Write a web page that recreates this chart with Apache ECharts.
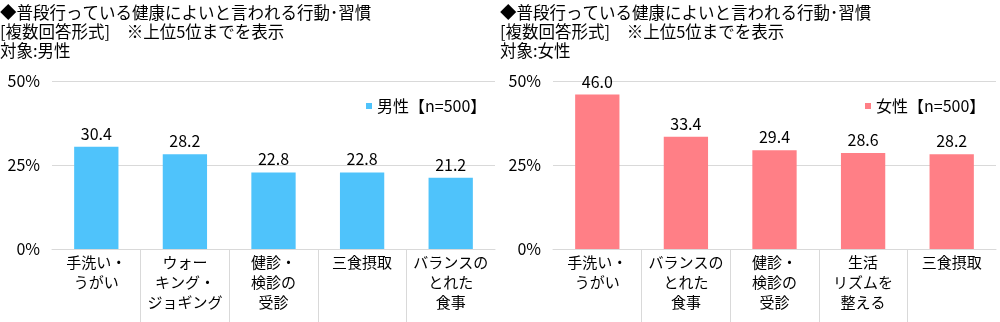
<!DOCTYPE html>
<html>
<head>
<meta charset="utf-8">
<script src="https://cdn.jsdelivr.net/npm/echarts@6/dist/echarts.min.js"></script>
<style>
html,body{margin:0;padding:0;background:#fff;}
#c{width:1000px;height:322px;}
</style>
</head>
<body>
<div id="c"></div>
<script>
const titleLines = ['◆普段行っている健康によいと言われる行動･習慣', '[複数回答形式]　※上位5位までを表示'];
const targetMale = '対象:男性';
const targetFemale = '対象:女性';
const categoriesMale = ['手洗い・\nうがい', 'ウォー\nキング・\nジョギング', '健診・\n検診の\n受診', '三食摂取', 'バランスの\nとれた\n食事'];
const valuesMale = [30.4, 28.2, 22.8, 22.8, 21.2];
const categoriesFemale = ['手洗い・\nうがい', 'バランスの\nとれた\n食事', '健診・\n検診の\n受診', '生活\nリズムを\n整える', '三食摂取'];
const valuesFemale = [46.0, 33.4, 29.4, 28.6, 28.2];
const seriesMale = '男性【n=500】';
const seriesFemale = '女性【n=500】';
const yMin = 0, yMax = 50, yInterval = 25;
const separatorPositions = [1, 2, 3, 4];

const FONT = '"Noto Sans CJK JP", "Noto Sans", sans-serif';
const blue = '#4fc3fb';
const pink = '#ff7f86';
const gridColor = '#d9d9d9';

const chart = echarts.init(document.getElementById('c'), null, {renderer: 'canvas'});

function xCat(gridIndex, data) {
  return {
    type: 'category', gridIndex: gridIndex, data: data,
    axisLine: {show: true, lineStyle: {color: gridColor, width: 1}},
    axisTick: {show: false},
    axisLabel: {color: '#000', fontSize: 15, fontFamily: FONT, lineHeight: 20, margin: 3, interval: 0, verticalAlign: 'top'},
    splitLine: {show: false}
  };
}
function xSep(gridIndex) {
  return {
    type: 'value', gridIndex: gridIndex, min: 0, max: 5, position: 'bottom',
    axisLine: {show: false},
    axisTick: {show: true, length: 74, customValues: separatorPositions, lineStyle: {color: gridColor, width: 1}},
    axisLabel: {show: false},
    splitLine: {show: false}
  };
}
function yVal(gridIndex) {
  return {
    type: 'value', gridIndex: gridIndex, min: yMin, max: yMax, interval: yInterval,
    axisLine: {show: false}, axisTick: {show: false},
    axisLabel: {formatter: '{value}%', color: '#000', fontSize: 16, fontFamily: FONT, margin: 12},
    splitLine: {show: true, lineStyle: {color: gridColor, width: 1}}
  };
}
function barSeries(name, data, color, xi, yi) {
  return {
    name: name, type: 'bar', data: data, xAxisIndex: xi, yAxisIndex: yi,
    barWidth: '50%',
    itemStyle: {color: color},
    label: {show: true, position: 'top', distance: 5, color: '#000', fontSize: 16, fontFamily: FONT,
      formatter: p => p.value.toFixed(1)}
  };
}

chart.setOption({
  animation: false,
  textStyle: {fontFamily: FONT},
  title: [
    {text: titleLines.concat([targetMale]).join('\n'), left: 0, top: 3, padding: 0,
     textStyle: {fontSize: 16.5, fontWeight: 'normal', color: '#000', lineHeight: 19, fontFamily: FONT}},
    {text: titleLines.concat([targetFemale]).join('\n'), left: 500, top: 3, padding: 0,
     textStyle: {fontSize: 16.5, fontWeight: 'normal', color: '#000', lineHeight: 19, fontFamily: FONT}}
  ],
  legend: [
    {data: [seriesMale], left: 361, top: 93, itemWidth: 6, itemHeight: 6, itemGap: 4, icon: 'rect',
     textStyle: {fontSize: 16, color: '#000', fontFamily: FONT}},
    {data: [seriesFemale], left: 860, top: 93, itemWidth: 6, itemHeight: 6, itemGap: 4, icon: 'rect',
     textStyle: {fontSize: 16, color: '#000', fontFamily: FONT}}
  ],
  grid: [
    {left: 52, width: 443, top: 81, height: 168, containLabel: false},
    {left: 553, width: 443, top: 81, height: 168, containLabel: false}
  ],
  xAxis: [xCat(0, categoriesMale), xCat(1, categoriesFemale), xSep(0), xSep(1)],
  yAxis: [yVal(0), yVal(1)],
  series: [
    barSeries(seriesMale, valuesMale, blue, 0, 0),
    barSeries(seriesFemale, valuesFemale, pink, 1, 1)
  ]
});
</script>
</body>
</html>
